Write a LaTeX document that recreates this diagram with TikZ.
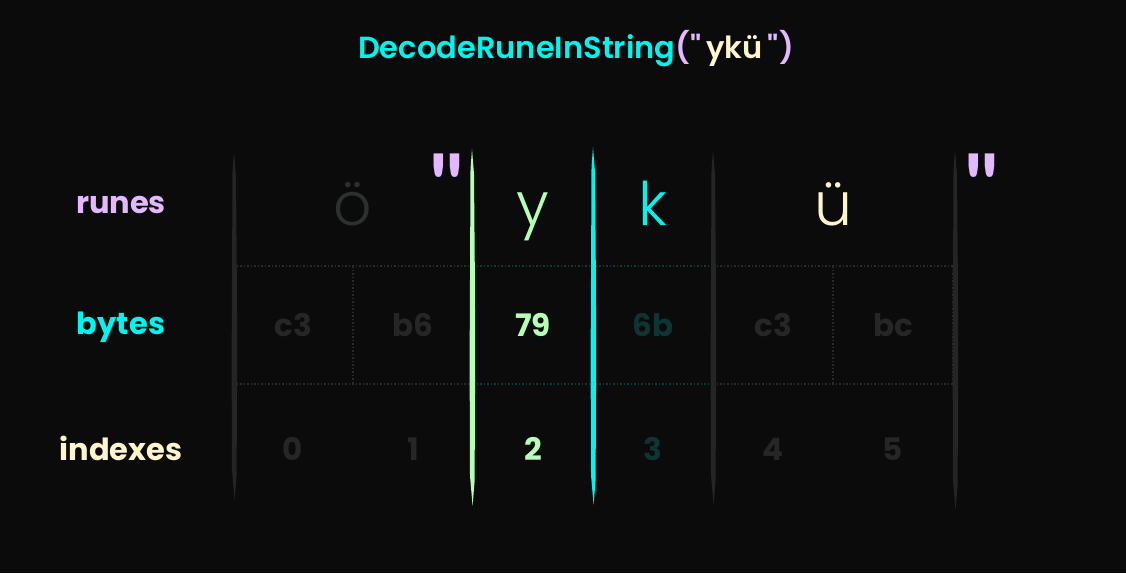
\documentclass[tikz,border=0pt]{standalone}
\usepackage{fontspec}
\setmainfont{Poppins}
\newfontfamily\lightfont{Poppins Light}
\newfontfamily\semifont{Poppins SemiBold}
\newfontfamily\quotefont{Lato}
\definecolor{bg}{HTML}{0B0B0B}
\definecolor{violet}{HTML}{E3B8FF}
\definecolor{cyanc}{HTML}{00F5EE}
\definecolor{cream}{HTML}{FFF4CC}
\definecolor{greenc}{HTML}{B5FFB5}
\definecolor{dimrune}{HTML}{2C3030}
\definecolor{dimtext}{HTML}{262626}
\definecolor{dimteal}{HTML}{0E3434}
\definecolor{gridgray}{HTML}{2A2A2A}
\definecolor{gridteal}{HTML}{123A3A}
\definecolor{barray}{HTML}{242626}
\tikzset{
  x=1pt, y=-1pt,
  titletext/.style={font=\semifont\fontsize{30.5}{32}\selectfont, inner sep=0pt, anchor=base},
  rowlabel/.style={font=\bfseries\fontsize{30.5}{32}\selectfont, inner sep=0pt, anchor=base},
  runetext/.style={font=\lightfont\fontsize{60}{62}\selectfont, inner sep=0pt, anchor=base},
  quotetext/.style={font=\quotefont\bfseries\fontsize{88}{90}\selectfont, inner sep=0pt, text=violet, anchor=north},
  cellnum/.style={font=\bfseries\fontsize{31}{32}\selectfont, inner sep=0pt, anchor=base},
  gridline/.style={line width=1.2pt, dash pattern=on 1.5pt off 2pt},
}
\newcommand{\roughbar}[4]{% x, top, bottom, color
  \fill[#4] (#1,#2) -- (#1+2.0,#2+25) -- (#1+2.8,#2+120) -- (#1+3.2,#2+200) -- (#1+2.6,#3-25) -- (#1+0.6,#3)
     -- (#1-2.0,#3-30) -- (#1-2.4,#2+210) -- (#1-1.9,#2+110) -- (#1-1.5,#2+20) -- cycle;}
\begin{document}
\begin{tikzpicture}
\fill[bg] (0,0) rectangle (1126,573);
\useasboundingbox (0,0) rectangle (1126,573);

% title
\node[titletext] (title) at (576,58) {\textcolor{cyanc}{DecodeRuneInString}\textcolor{violet}{(\symbol{34}}\,\textcolor{cream}{ykü}\,\textcolor{violet}{\symbol{34})}};

% row labels
\node[rowlabel, text=violet] (lrunes) at (121,213) {runes};
\node[rowlabel, text=cyanc] (lbytes) at (121,334) {bytes};
\node[rowlabel, text=cream] (lindex) at (121,460) {indexes};

% grid dotted lines (bytes row)
\draw[gridline, gridgray] (233,266) -- (473,266);
\draw[gridline, gridteal] (473,266) -- (713,266);
\draw[gridline, gridgray] (713,266) -- (953,266);
\draw[gridline, gridgray] (233,384) -- (473,384);
\draw[gridline, gridteal] (473,384) -- (713,384);
\draw[gridline, gridgray] (713,384) -- (953,384);
\draw[gridline, gridgray] (353,266) -- (353,384);
\draw[gridline, gridgray] (833,266) -- (833,384);
\draw[gridline, gridgray] (953,266) -- (953,384);

% vertical bars
\roughbar{234}{152}{500}{barray}
\roughbar{713}{150}{505}{barray}
\roughbar{955}{150}{510}{barray}
\roughbar{472}{149}{506}{greenc}
\roughbar{593}{147}{505}{cyanc}

% runes row
\node[runetext, text=dimrune] (r0) at (353,225) {ö};
\node[runetext, text=greenc] (r1) at (533,225) {y};
\node[runetext, text=cyanc] (r2) at (653,225) {k};
\node[runetext, text=cream] (r3) at (833,225) {ü};
\node[quotetext] (q1) at (447,154) {\symbol{34}};
\node[quotetext] (q2) at (982,154) {\symbol{34}};

% bytes row
\node[cellnum, text=dimtext] (b0) at (293,336) {c3};
\node[cellnum, text=dimtext] (b1) at (413,336) {b6};
\node[cellnum, text=greenc] (b2) at (533,336) {79};
\node[cellnum, text=dimteal] (b3) at (653,336) {6b};
\node[cellnum, text=dimtext] (b4) at (773,336) {c3};
\node[cellnum, text=dimtext] (b5) at (893,336) {bc};

% indexes row
\node[cellnum, text=dimtext] (i0) at (293,460) {0};
\node[cellnum, text=dimtext] (i1) at (413,460) {1};
\node[cellnum, text=greenc] (i2) at (533,460) {2};
\node[cellnum, text=dimteal] (i3) at (653,460) {3};
\node[cellnum, text=dimtext] (i4) at (773,460) {4};
\node[cellnum, text=dimtext] (i5) at (893,460) {5};
\end{tikzpicture}
\end{document}
